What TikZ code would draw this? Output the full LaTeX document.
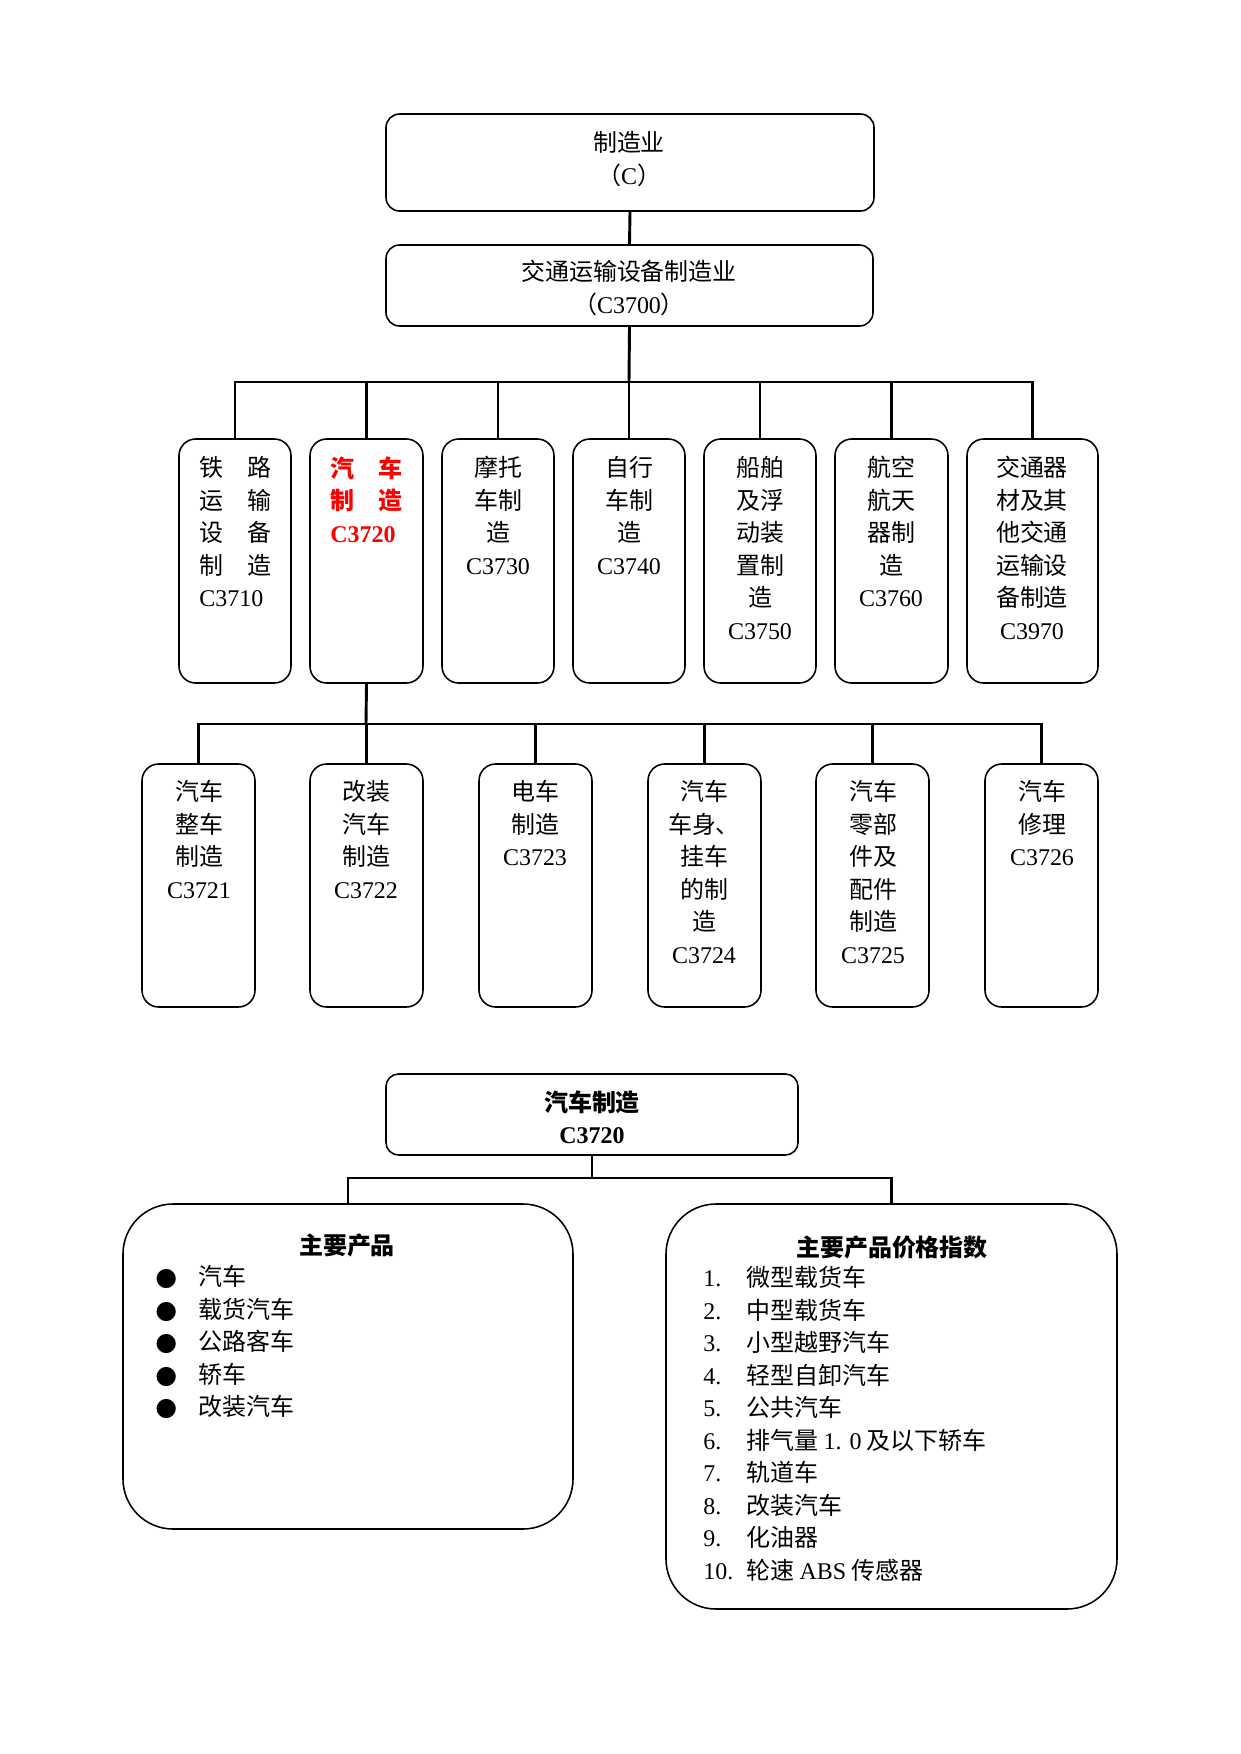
\documentclass[tikz,border=0pt]{standalone}
\usepackage{fontspec}
\setmainfont{Liberation Serif}
\newfontfamily\cjk{Noto Sans CJK SC}
\newfontfamily\dejavu{DejaVu Sans}
\usetikzlibrary{fit}
\newcommand\lat[1]{{\rmfamily #1}}
\newcommand\bul{\makebox[20.6pt][l]{\dejavu\fontsize{12}{15.6}\selectfont ●}}
\newcommand\num[1]{\makebox[20.6pt][l]{\rmfamily #1}}
\begin{document}
\begin{tikzpicture}[x=0.47968pt,y=-0.47968pt,
  box/.style={draw, line width=0.75pt, rounded corners=8pt, inner sep=0pt},
  conn/.style={line width=1.4pt},
  txt/.style={inner sep=0pt, align=center, anchor=north, font=\cjk\fontsize{11.5}{15.6}\selectfont},
  txtl/.style={txt, align=left, anchor=north west},
  bold/.style={font=\cjk\fontsize{11.5}{15.6}\selectfont\bfseries}]
\useasboundingbox (0,0) rectangle (1241,1754);

% top levels
\node[box, rounded corners=6.5pt, fit={(386,114) (874,211)}] (top) {};
\node[box, rounded corners=6.5pt, fit={(386,245) (873,326)}] (mid) {};
\node[txt] (ttop) at (629,131) {制造业\\（\lat{C}）};
\node[txt] (tmid) at (629,260) {交通运输设备制造业\\（\lat{C3700}）};

% level 3
\node[box, fit={(179,439) (291,683)}] (b1) {};
\node[box, fit={(310,439) (423,683)}] (b2) {};
\node[box, fit={(442,439) (554,683)}] (b3) {};
\node[box, fit={(573,439) (685,683)}] (b4) {};
\node[box, fit={(704,439) (816,683)}] (b5) {};
\node[box, fit={(835,439) (948,683)}] (b6) {};
\node[box, fit={(967,439) (1098,683)}] (b7) {};

\node[txtl] (tb1) at (199,456) {铁　路\\运　输\\设　备\\制　造\\\lat{C3710}};
\node[txtl, bold, text=red] (tb2) at (330,456) {汽　车\\制　造\\\lat{C3720}};
\node[txt] (tb3) at (498,456) {摩托\\车制\\造\\\lat{C3730}};
\node[txt] (tb4) at (629,456) {自行\\车制\\造\\\lat{C3740}};
\node[txt] (tb5) at (760,456) {船舶\\及浮\\动装\\置制\\造\\\lat{C3750}};
\node[txt] (tb6) at (891,456) {航空\\航天\\器制\\造\\\lat{C3760}};
\node[txt] (tb7) at (1032,456) {交通器\\材及其\\他交通\\运输设\\备制造\\\lat{C3970}};

% level 4
\node[box, fit={(142,764) (255,1007)}] (c1) {};
\node[box, fit={(310,764) (423,1007)}] (c2) {};
\node[box, fit={(479,764) (592,1007)}] (c3) {};
\node[box, fit={(648,764) (761,1007)}] (c4) {};
\node[box, fit={(816,764) (929,1007)}] (c5) {};
\node[box, fit={(985,764) (1098,1007)}] (c6) {};

\node[txt] (tc1) at (199,780) {汽车\\整车\\制造\\\lat{C3721}};
\node[txt] (tc2) at (366,780) {改装\\汽车\\制造\\\lat{C3722}};
\node[txt] (tc3) at (535,780) {电车\\制造\\\lat{C3723}};
\node[txt] (tc4) at (704,780) {汽车\\车身、\\挂车\\的制\\造\\\lat{C3724}};
\node[txt] (tc5) at (873,780) {汽车\\零部\\件及\\配件\\制造\\\lat{C3725}};
\node[txt] (tc6) at (1042,780) {汽车\\修理\\\lat{C3726}};

% lower part
\node[box, rounded corners=6pt, fit={(386,1074) (798,1155)}] (auto) {};
\node[txt, bold] (tauto) at (592,1090) {汽车制造\\\lat{C3720}};

\node[box, rounded corners=24pt, fit={(123,1204) (573,1529)}] (lp) {};
\node[box, rounded corners=24pt, fit={(666,1204) (1117,1609)}] (rp) {};

\node[txt, bold] (hl) at (347,1233) {主要产品};
\node[txtl] (ll) at (155,1265) {\bul 汽车\\\bul 载货汽车\\\bul 公路客车\\\bul 轿车\\\bul 改装汽车};

\node[txt, bold] (hr) at (892,1235) {主要产品价格指数};
\node[txtl] (lr) at (703,1266) {\num{1.}微型载货车\\\num{2.}中型载货车\\\num{3.}小型越野汽车\\\num{4.}轻型自卸汽车\\\num{5.}公共汽车\\\num{6.}排气量 \lat{1. 0} 及以下轿车\\\num{7.}轨道车\\\num{8.}改装汽车\\\num{9.}化油器\\\num{10.}轮速 \lat{ABS} 传感器};

% connectors
\draw[conn] (top.south) -- (mid.north);
\coordinate (bus1) at (629,382);
\draw[conn] (mid.south) -- (bus1);
\draw[conn] (b1.north) -- (b1.north |- bus1) -- (b7.north |- bus1) -- (b7.north);
\foreach \n in {b2,b3,b4,b5,b6} \draw[conn] (\n.north) -- (\n.north |- bus1);

\coordinate (bus2) at (366,724);
\draw[conn] (b2.south) -- (bus2);
\draw[conn] (c1.north) -- (c1.north |- bus2) -- (c6.north |- bus2) -- (c6.north);
\foreach \n in {c2,c3,c4,c5} \draw[conn] (\n.north) -- (\n.north |- bus2);

\coordinate (bus3) at (592,1178);
\draw[conn] (auto.south) -- (bus3);
\draw[conn] (lp.north) -- (lp.north |- bus3) -- (rp.north |- bus3) -- (rp.north);
\end{tikzpicture}
\end{document}
